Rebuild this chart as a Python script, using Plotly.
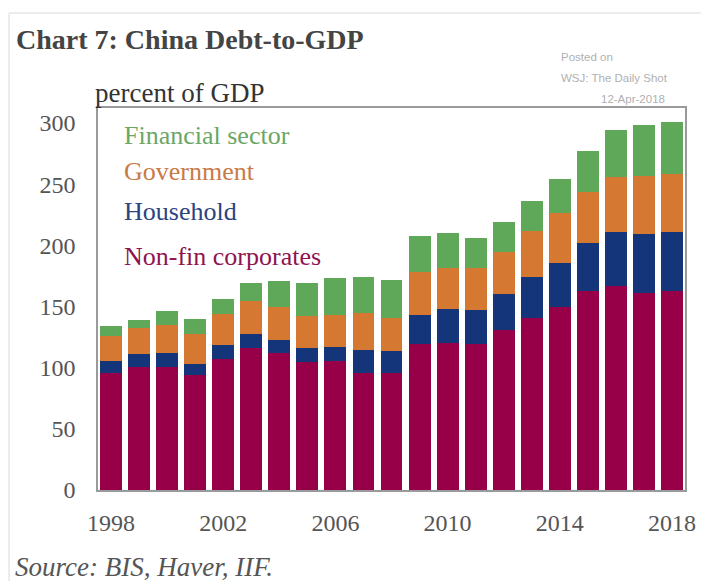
import plotly.graph_objects as go

years = list(range(1998, 2019))
non_fin_corporates = [95.3, 100.7, 100.7, 93.9, 107.5, 115.7, 111.6, 104.8, 105.6, 95.8, 95.3,
                      119.7, 120.3, 119.7, 130.6, 140.7, 149.7, 162.4, 166.5, 161.4, 162.4]
household = [10.3, 10.1, 10.9, 9.0, 10.9, 11.6, 11.4, 10.9, 11.4, 19.0, 18.4,
             23.4, 27.5, 27.8, 29.9, 33.4, 35.9, 39.8, 44.4, 47.6, 48.8]
government = [20.1, 22.0, 23.1, 25.0, 25.8, 27.3, 26.7, 26.6, 25.9, 29.9, 27.3,
              34.9, 34.0, 33.7, 34.3, 37.6, 40.8, 41.3, 44.9, 47.9, 47.3]
financial_sector = [8.2, 6.0, 11.4, 11.7, 12.3, 14.7, 20.9, 27.2, 30.4, 29.4, 30.4,
                    29.3, 28.2, 24.5, 24.2, 24.8, 27.7, 33.5, 38.6, 41.1, 42.2]
y_ticks = [0, 50, 100, 150, 200, 250, 300]
x_ticks = [1998, 2002, 2006, 2010, 2014, 2018]

series = [
    ("Non-fin corporates", non_fin_corporates, "#970048"),
    ("Household", household, "#15357A"),
    ("Government", government, "#D47832"),
    ("Financial sector", financial_sector, "#5FA85A"),
]

SERIF = "Liberation Serif"
fig = go.Figure()
for name, vals, col in series:
    fig.add_trace(go.Bar(x=years, y=vals, name=name, marker_color=col,
                         marker_line_width=0, showlegend=False))

fig.update_layout(
    barmode="stack",
    bargap=0.22,
    width=708, height=581,
    margin=dict(l=98, r=16, t=108, b=91),
    paper_bgcolor="white", plot_bgcolor="white",
    font=dict(family=SERIF, color="#555555"),
    xaxis=dict(range=[1997.54, 2018.46], tickvals=x_ticks, ticks="",
               showgrid=False, zeroline=False, showline=True, mirror=True,
               linecolor="#9a9a9a", linewidth=1.5, ticklabelstandoff=10,
               tickfont=dict(family=SERIF, size=24, color="#555555")),
    yaxis=dict(range=[0, 312.3], tickvals=y_ticks, ticks="",
               showgrid=False, zeroline=False, showline=True, mirror=True,
               linecolor="#9a9a9a", linewidth=1.5,
               tickfont=dict(family=SERIF, size=24, color="#555555"), ticklabelstandoff=16),
)

def pxy(y):
    return (490 - y) / 382
def pxx(x):
    return (x - 98) / 594

# Legend as coloured text labels
legend_items = [("Financial sector", "#6AA765", 135), ("Government", "#C97A45", 171),
                ("Household", "#2B4380", 211), ("Non-fin corporates", "#8E1450", 256)]
for txt, col, ypx in legend_items:
    fig.add_annotation(text=txt, xref="paper", yref="paper",
                       x=pxx(122), y=pxy(ypx), xanchor="left", yanchor="middle",
                       showarrow=False, font=dict(family=SERIF, size=26, color=col))

fig.add_annotation(text="<b>Chart 7: China Debt-to-GDP</b>", xref="paper", yref="paper",
                   x=pxx(13), y=pxy(39), xanchor="left", yanchor="middle", showarrow=False,
                   font=dict(family=SERIF, size=28, color="#444444"))
fig.add_annotation(text="percent of GDP", xref="paper", yref="paper",
                   x=pxx(93), y=pxy(93), xanchor="left", yanchor="middle", showarrow=False,
                   font=dict(family=SERIF, size=27, color="#333333"))
fig.add_annotation(text="<i>Source: BIS, Haver, IIF.</i>", xref="paper", yref="paper",
                   x=pxx(12), y=pxy(567), xanchor="left", yanchor="middle", showarrow=False,
                   font=dict(family=SERIF, size=27, color="#555555"))
for txt, xa, x, y in [("Posted on", "left", 565, 57), ("WSJ: The Daily Shot", "left", 565, 78),
                      ("12-Apr-2018", "right", 674, 99)]:
    fig.add_annotation(text=txt, xref="paper", yref="paper", x=pxx(x), y=pxy(y),
                       xanchor=xa, yanchor="middle", showarrow=False,
                       font=dict(family="Liberation Sans", size=11.5, color="#b0b0b0"))

# faint outer frame (top and left)
fig.add_shape(type="line", xref="paper", yref="paper", x0=pxx(8), x1=pxx(708), y0=pxy(13), y1=pxy(13),
              line=dict(color="#e6e6e6", width=1.5))
fig.add_shape(type="line", xref="paper", yref="paper", x0=pxx(8), x1=pxx(8), y0=pxy(13), y1=pxy(581),
              line=dict(color="#e6e6e6", width=1.5))

fig.write_html("out.html")
